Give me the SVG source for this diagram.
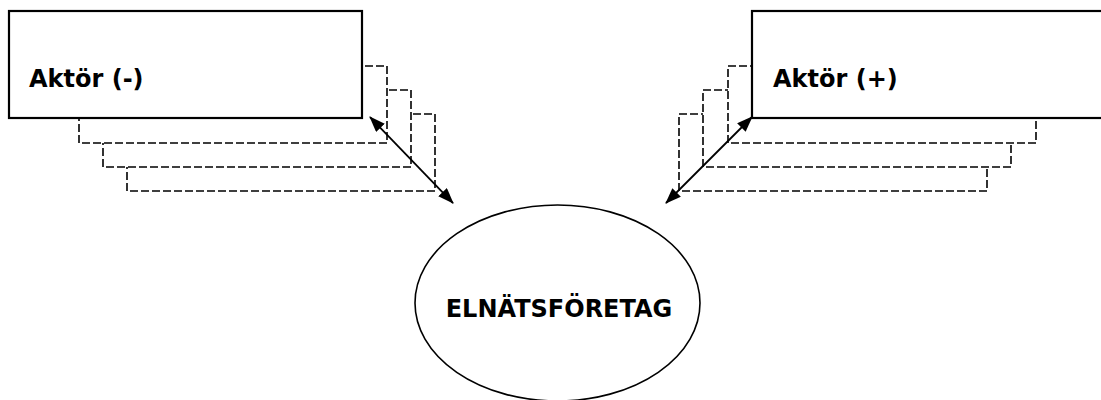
<svg xmlns="http://www.w3.org/2000/svg" width="1101" height="400" viewBox="0 0 1101 400">
<style>
.box{fill:#fff;stroke:#000;stroke-width:2.2}
.dash{fill:#fff;stroke:#000;stroke-width:1.6;stroke-dasharray:8 3}
.lbl{font-family:"DejaVu Sans",Verdana,sans-serif;font-weight:bold;font-size:24px;fill:#000}
.conn{stroke:#000;stroke-width:1.8;fill:none}
</style>
<defs>
<marker id="ah" viewBox="0 0 16 12" refX="15" refY="6" markerWidth="16" markerHeight="12" markerUnits="userSpaceOnUse" orient="auto-start-reverse">
<path d="M0,0 L16,6 L0,12 Z" fill="#000"/>
</marker>
</defs>
<rect width="1101" height="400" fill="#fff"/>
<g id="aktor-minus">
<rect class="dash" x="127" y="114" width="308" height="77"/>
<rect class="dash" x="103" y="90" width="308" height="77"/>
<rect class="dash" x="79" y="66" width="308" height="77"/>
<rect class="box" x="9" y="11" width="353" height="107"/>
<text class="lbl" x="29" y="87">Aktör (-)</text>
</g>
<g id="aktor-plus">
<rect class="dash" x="679" y="114" width="308" height="77"/>
<rect class="dash" x="703" y="90" width="308" height="77"/>
<rect class="dash" x="728" y="66" width="308" height="77"/>
<rect class="box" x="752" y="11" width="360" height="107"/>
<text class="lbl" x="773" y="87">Aktör (+)</text>
</g>
<g id="elnatsforetag">
<ellipse cx="557.5" cy="303" rx="142.5" ry="98" fill="#fff" stroke="#000" stroke-width="1.6"/>
<text class="lbl" x="559" y="317" text-anchor="middle">ELNÄTSFÖRETAG</text>
</g>
<g id="connectors">
<line class="conn" x1="370" y1="117" x2="453" y2="203" marker-start="url(#ah)" marker-end="url(#ah)"/>
<line class="conn" x1="752" y1="117" x2="666" y2="203" marker-start="url(#ah)" marker-end="url(#ah)"/>
</g>
</svg>
